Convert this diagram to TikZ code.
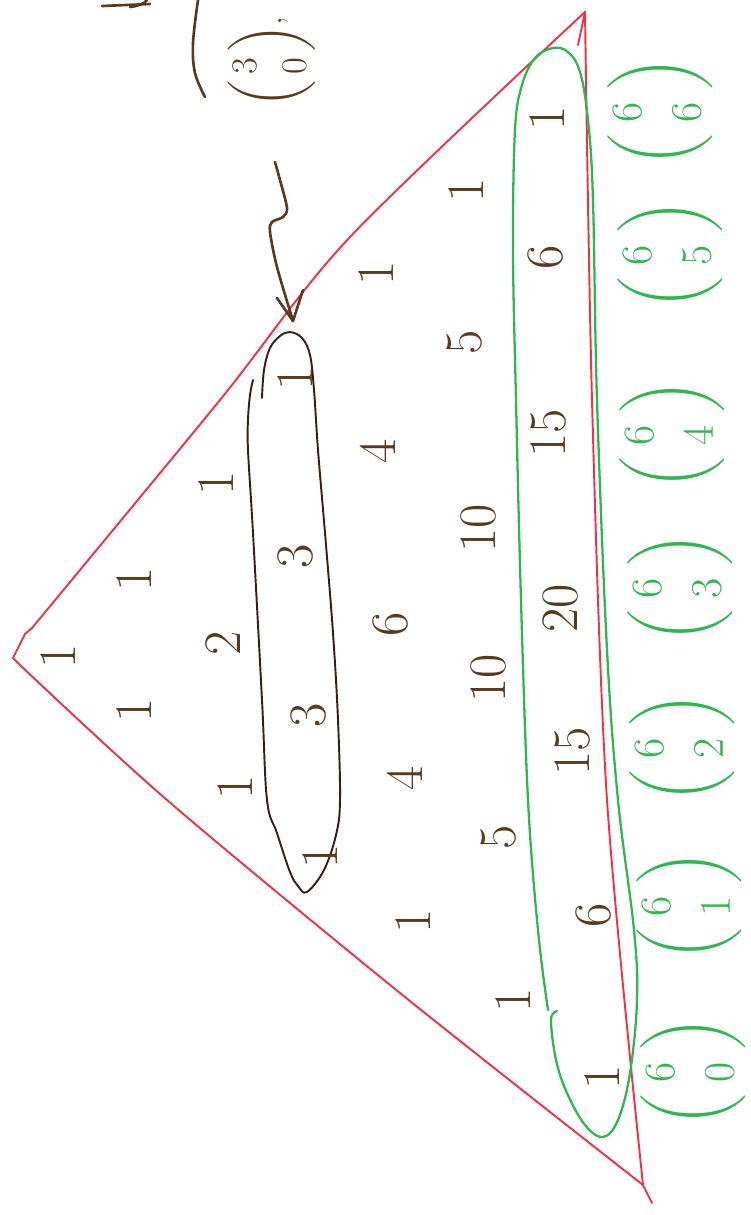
\documentclass[tikz,border=0pt]{standalone}
\usepackage{amsmath}
\definecolor{ink}{HTML}{5A3A1E}
\definecolor{dink}{HTML}{3A2014}
\definecolor{tri}{HTML}{EE3347}
\definecolor{grn}{HTML}{2DB74E}
\begin{document}
\begin{tikzpicture}[x=0.02cm,y=-0.02cm,
  num/.style={text=ink,rotate=90,inner sep=0pt,font=\fontsize{30}{36}\selectfont},
  bin/.style={text=grn,rotate=90,inner sep=0pt,font=\fontsize{24}{28}\selectfont},
  bbin/.style={text=ink,rotate=90,inner sep=0pt,font=\fontsize{20}{24}\selectfont},
  redline/.style={draw=tri,line width=1.1pt,line join=round,line cap=round},
  grnline/.style={draw=grn,line width=1.3pt,line join=round,line cap=round},
  brnline/.style={draw=dink,line width=1.1pt,line join=round,line cap=round},
  inkline/.style={draw=ink,line width=1.5pt,line join=round,line cap=round}]
\path[use as bounding box] (0,0) rectangle (751,1215);

% red triangle
\draw[redline] (13,658) -- (25,634) -- (32,628);
\draw[redline] plot[smooth,tension=0.5] coordinates {(32,628) (220,400) (350,237) (585,12)};
\draw[redline] plot[smooth,tension=0.5] coordinates {(585,12) (592,400) (607,800) (643,1185)};
\draw[redline] (643,1185) -- (652,1203);
\draw[redline] plot[smooth,tension=0.5] coordinates {(643,1185) (400,993) (167,800) (20,665)};
\draw[redline] (20,665) -- (13,658);
\draw[redline] (578,45) -- (585,12);

% green ellipse around row 6
\draw[grnline] plot[smooth,tension=0.6] coordinates {(557,1011) (551,1020) (556,1060) (567,1093) (585,1125) (603,1137) (618,1120) (630,1073) (637,1000) (634,930) (618,800) (607,650) (597,400) (593,200) (588,120) (580,72) (568,52) (553,48) (535,58) (522,85) (515,130) (513,250) (516,400) (521,600) (528,800) (538,930) (548,1010)};

% brown ellipse around row 3
\draw[brnline] plot[smooth,tension=0.6] coordinates {(262,398) (264,370) (270,348) (280,336) (290,332) (302,338) (310,355) (314,390) (318,450) (325,533) (333,633) (338,720) (340,800) (336,835) (324,870) (307,892) (298,886) (290,872) (277,833) (267,800) (262,700) (253,533) (248,450) (248,420) (250,395) (253,380)};

% rows of Pascal's triangle
\node[num] (r0c0) at (58,656) {1};
\node[num] (r1c0) at (134,710) {1};
\node[num] (r1c1) at (134,579) {1};
\node[num] (r2c0) at (235,787) {1};
\node[num] (r2c1) at (223,643) {2};
\node[num] (r2c2) at (216,483) {1};
\node[num] (r3c0) at (320,856) {1};
\node[num] (r3c1) at (308,715) {3};
\node[num] (r3c2) at (296,556) {3};
\node[num] (r3c3) at (295,378) {1};
\node[num] (r4c0) at (413,921) {1};
\node[num] (r4c1) at (405,778) {4};
\node[num] (r4c2) at (390,624) {6};
\node[num] (r4c3) at (378,451) {4};
\node[num] (r4c4) at (376,273) {1};
\node[num] (r5c0) at (513,1000) {1};
\node[num] (r5c1) at (499,837) {5};
\node[num] (r5c2) at (488,678) {10};
\node[num] (r5c3) at (478,528) {10};
\node[num] (r5c4) at (465,342) {5};
\node[num] (r5c5) at (466,190) {1};
\node[num] (r6c0) at (602,1077) {1};
\node[num] (r6c1) at (593,915) {6};
\node[num] (r6c2) at (572,751) {15};
\node[num] (r6c3) at (560,608) {20};
\node[num] (r6c4) at (548,433) {15};
\node[num] (r6c5) at (545,257) {6};
\node[num] (r6c6) at (547,118) {1};

% binomial coefficients
\node[bin] (b60) at (693,1072) {$\displaystyle\binom{\;6\;}{\;0\;}$};
\node[bin] (b61) at (689,906) {$\displaystyle\binom{\;6\;}{\;1\;}$};
\node[bin] (b62) at (682,748) {$\displaystyle\binom{\;6\;}{\;2\;}$};
\node[bin] (b63) at (680,588) {$\displaystyle\binom{\;6\;}{\;3\;}$};
\node[bin] (b64) at (672,435) {$\displaystyle\binom{\;6\;}{\;4\;}$};
\node[bin] (b65) at (670,255) {$\displaystyle\binom{\;6\;}{\;5\;}$};
\node[bin] (b66) at (660,112) {$\displaystyle\binom{\;6\;}{\;6\;}$};

% (3 0), at the top
\node[bbin] (b30) at (272,62) {$\displaystyle\binom{\,3\,}{\,0\,}$,};

% squiggly arrow
\coordinate (arrS) at (275,162);
\coordinate (arrT) at (293,321);
\draw[inkline] plot[smooth,tension=0.5] coordinates {(arrS) (280,180) (287,208) (283,217) (272,222) (270,232) (277,267) (arrT)};
\draw[inkline] (277,298) -- (arrT) -- (303,290);

% fragments cut at the top edge
\draw[inkline] plot[smooth,tension=0.6] coordinates {(198,0) (193,43) (195,73) (205,97)};
\draw[inkline] (102,6) -- (150,4);
\draw[inkline] (130,7) .. controls (138,6) and (144,4) .. (147,0);
\end{tikzpicture}
\end{document}
